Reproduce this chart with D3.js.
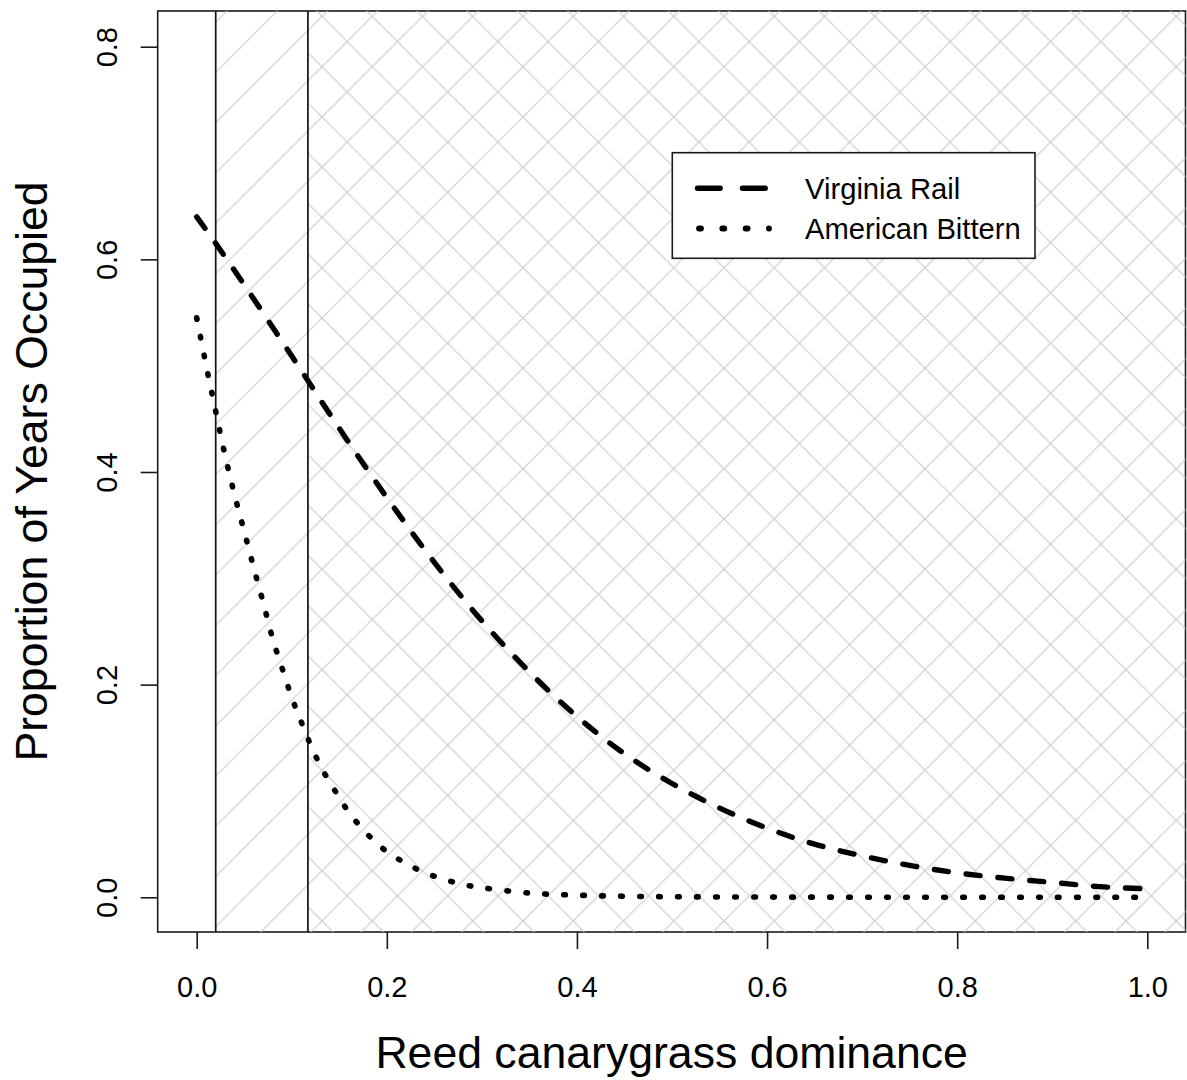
<!DOCTYPE html>
<html>
<head>
<meta charset="utf-8">
<script src="https://cdn.jsdelivr.net/npm/d3@7"></script>
<style>
  html, body { margin: 0; padding: 0; background: #fff; }
  svg { display: block; }
  text { font-family: "Liberation Sans", Arial, sans-serif; fill: #000; }
</style>
</head>
<body>
<script>
// ---- data ----
const xTicks = [0, 0.2, 0.4, 0.6, 0.8, 1.0];
const xTickLabels = ["0.0", "0.2", "0.4", "0.6", "0.8", "1.0"];
const yTicks = [0, 0.2, 0.4, 0.6, 0.8];
const yTickLabels = ["0.0", "0.2", "0.4", "0.6", "0.8"];

const zoneBounds = [0.02, 0.117];   // vertical reference lines

const seriesNames = ["Virginia Rail", "American Bittern"];

const railX = [0, 0.02, 0.05, 0.10, 0.15, 0.20, 0.25, 0.30, 0.35, 0.40, 0.45,
               0.50, 0.55, 0.60, 0.65, 0.70, 0.75, 0.80, 0.85, 0.90, 0.95, 1.00];
const railY = [0.640, 0.615, 0.576, 0.509, 0.441, 0.376, 0.315, 0.260, 0.212, 0.170, 0.135,
               0.107, 0.084, 0.065, 0.050, 0.039, 0.030, 0.023, 0.018, 0.014, 0.010, 0.008];

const bitternX = [0, 0.01, 0.02, 0.03, 0.04, 0.05, 0.06, 0.07, 0.08, 0.09, 0.10,
                  0.11, 0.12, 0.13, 0.14, 0.15, 0.16, 0.18, 0.20, 0.22, 0.24, 0.26,
                  0.28, 0.30, 0.35, 0.40, 0.45, 0.50, 0.60, 0.70, 0.80, 0.90, 1.00];
const bitternY = [0.545, 0.500, 0.457, 0.415, 0.378, 0.344, 0.310, 0.277, 0.243, 0.215, 0.188,
                  0.165, 0.143, 0.124, 0.108, 0.094, 0.080, 0.059, 0.043, 0.032, 0.023, 0.017,
                  0.012, 0.009, 0.004, 0.002, 0.001, 0.0005, 0.0002, 0.0001, 0, 0, 0];

// ---- layout ----
const W = 1187, H = 1080;
const box = { left: 157.7, right: 1185.5, top: 11, bottom: 932 };
const font = '"Liberation Sans", Arial, sans-serif';

const x = d3.scaleLinear().domain([0, 1]).range([196.7, 1147.3]);
const y = d3.scaleLinear().domain([0, 0.8]).range([897.3, 46.7]);

const svg = d3.select("body").append("svg")
  .attr("width", W).attr("height", H)
  .attr("viewBox", `0 0 ${W} ${H}`);

// hatch patterns
const P = 50.25;
const hatchColor = "#cccccc";
const defs = svg.append("defs");
const single = defs.append("pattern").attr("id", "hatchSingle")
  .attr("patternUnits", "userSpaceOnUse")
  .attr("x", 20.5).attr("y", 16.45).attr("width", P).attr("height", P);
single.append("path")
  .attr("d", `M0,${P} L${P},0 M${-P/2},${P/2} L${P/2},${-P/2} M${P/2},${P*1.5} L${P*1.5},${P/2}`)
  .attr("stroke", hatchColor).attr("stroke-width", 1.2).attr("fill", "none");
const cross = defs.append("pattern").attr("id", "hatchCross")
  .attr("patternUnits", "userSpaceOnUse")
  .attr("x", 20.5).attr("y", 16.45).attr("width", P).attr("height", P);
cross.append("path")
  .attr("d", `M0,${P} L${P},0 M${-P/2},${P/2} L${P/2},${-P/2} M${P/2},${P*1.5} L${P*1.5},${P/2}` +
             ` M0,0 L${P},${P} M${-P/2},${P/2} L${P/2},${P*1.5} M${P/2},${-P/2} L${P*1.5},${P/2}`)
  .attr("stroke", hatchColor).attr("stroke-width", 1.2).attr("fill", "none");

const clip = defs.append("clipPath").attr("id", "plotClip");
clip.append("rect").attr("x", box.left).attr("y", box.top)
  .attr("width", box.right - box.left).attr("height", box.bottom - box.top);

// plot box
svg.append("rect")
  .attr("x", box.left).attr("y", box.top)
  .attr("width", box.right - box.left).attr("height", box.bottom - box.top)
  .attr("fill", "#fff").attr("stroke", "#1a1a1a").attr("stroke-width", 1.6);

// hatched zones
const g = svg.append("g").attr("clip-path", "url(#plotClip)");
g.append("rect")
  .attr("x", x(zoneBounds[0])).attr("y", box.top - 1)
  .attr("width", x(zoneBounds[1]) - x(zoneBounds[0]))
  .attr("height", box.bottom - box.top + 2)
  .attr("fill", "url(#hatchSingle)");
g.append("rect")
  .attr("x", x(zoneBounds[1])).attr("y", box.top - 1)
  .attr("width", box.right + 1 - x(zoneBounds[1]))
  .attr("height", box.bottom - box.top + 2)
  .attr("fill", "url(#hatchCross)");

// vertical lines
g.selectAll("line.zone").data(zoneBounds).enter().append("line")
  .attr("class", "zone")
  .attr("x1", d => x(d)).attr("x2", d => x(d))
  .attr("y1", box.top).attr("y2", box.bottom)
  .attr("stroke", "#111").attr("stroke-width", 1.7);

// axes
const xAxis = d3.axisBottom(x).tickValues(xTicks)
  .tickFormat((d, i) => xTickLabels[i]).tickSize(17).tickSizeOuter(0).tickPadding(0);
const gx = svg.append("g").attr("transform", `translate(0,${box.bottom})`).call(xAxis);
gx.select(".domain").remove();
gx.selectAll(".tick line").attr("stroke", "#1a1a1a").attr("stroke-width", 1.6);
gx.selectAll(".tick text")
  .attr("y", 65).attr("dy", 0)
  .style("font-family", font).style("font-size", "29px").attr("fill", "#000");

const yAxis = d3.axisLeft(y).tickValues(yTicks)
  .tickFormat((d, i) => yTickLabels[i]).tickSize(17).tickSizeOuter(0);
const gy = svg.append("g").attr("transform", `translate(${box.left},0)`).call(yAxis);
gy.select(".domain").remove();
gy.selectAll(".tick line").attr("stroke", "#1a1a1a").attr("stroke-width", 1.6);
gy.selectAll(".tick text")
  .attr("x", 0).attr("dy", 0)
  .attr("text-anchor", "middle")
  .attr("transform", "translate(-40.7,0) rotate(-90)")
  .style("font-family", font).style("font-size", "29px").attr("fill", "#000");

// axis titles
svg.append("text")
  .attr("x", (box.left + box.right) / 2).attr("y", 1068)
  .attr("text-anchor", "middle")
  .style("font-size", "44.6px")
  .text("Reed canarygrass dominance");
svg.append("text")
  .attr("transform", `translate(47,${(box.top + box.bottom) / 2}) rotate(-90)`)
  .attr("text-anchor", "middle")
  .style("font-size", "44.6px")
  .text("Proportion of Years Occupied");

// curves
const line = d3.line().x(d => x(d[0])).y(d => y(d[1])).curve(d3.curveCatmullRom.alpha(0.5));
const railData = railX.map((v, i) => [v, railY[i]]);
const bitternData = bitternX.map((v, i) => [v, bitternY[i]]);

g.append("path").datum(railData)
  .attr("d", line)
  .attr("fill", "none").attr("stroke", "#000").attr("stroke-width", 5.4)
  .attr("stroke-linecap", "round")
  .attr("stroke-dasharray", "14.2,17.8");
g.append("path").datum(bitternData)
  .attr("d", line)
  .attr("fill", "none").attr("stroke", "#000").attr("stroke-width", 5.6)
  .attr("stroke-linecap", "round")
  .attr("stroke-dasharray", "1.6,17.4");

// legend
const lg = svg.append("g");
lg.append("rect")
  .attr("x", 672.3).attr("y", 152.7).attr("width", 362.7).attr("height", 105.6)
  .attr("fill", "#fff").attr("stroke", "#1a1a1a").attr("stroke-width", 1.6);
const legendRows = [
  { name: seriesNames[0], yy: 188.3, dash: "22.7,22.3", x1: 697.5, x2: 765.5, sw: 5.4 },
  { name: seriesNames[1], yy: 228.5, dash: "2,21.3", x1: 699, x2: 769, sw: 5.8 }
];
legendRows.forEach(r => {
  lg.append("line")
    .attr("x1", r.x1).attr("x2", r.x2).attr("y1", r.yy).attr("y2", r.yy)
    .attr("stroke", "#000").attr("stroke-width", r.sw)
    .attr("stroke-linecap", "round").attr("stroke-dasharray", r.dash);
  lg.append("text")
    .attr("x", 805).attr("y", r.yy + 10.5)
    .style("font-size", "29.2px")
    .text(r.name);
});
</script>
</body>
</html>
